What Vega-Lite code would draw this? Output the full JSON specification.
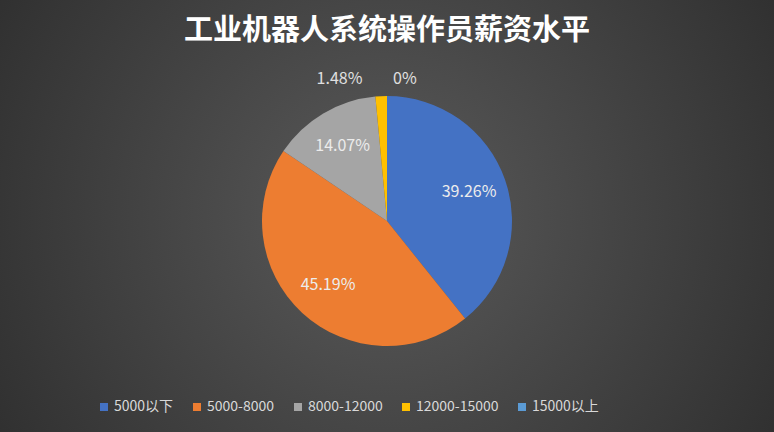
{
  "$schema": "https://vega.github.io/schema/vega-lite/v6.json",
  "width": 774,
  "height": 432,
  "padding": 0,
  "autosize": {"type": "none"},
  "background": "#2c2c2c",
  "view": {
    "stroke": null,
    "fill": {
      "gradient": "radial",
      "x1": 0.5, "y1": 0.5, "r1": 0,
      "x2": 0.5, "y2": 0.5, "r2": 0.72,
      "stops": [
        {"offset": 0, "color": "#5a5a5a"},
        {"offset": 1, "color": "#262626"}
      ]
    }
  },
  "title": {
    "text": "工业机器人系统操作员薪资水平",
    "font": "Noto Sans CJK SC",
    "fontSize": 29,
    "fontWeight": "bold",
    "color": "#ffffff",
    "anchor": "middle",
    "baseline": "bottom",
    "offset": -75
  },
  "data": {
    "values": [
      {"idx": 1, "category": "5000以下", "pct": 39.26, "label": "39.26%"},
      {"idx": 2, "category": "5000-8000", "pct": 45.19, "label": "45.19%"},
      {"idx": 3, "category": "8000-12000", "pct": 14.07, "label": "14.07%"},
      {"idx": 4, "category": "12000-15000", "pct": 1.48, "label": "1.48%"},
      {"idx": 5, "category": "15000以上", "pct": 0, "label": "0%"}
    ]
  },
  "encoding": {
    "theta": {"field": "pct", "type": "quantitative", "stack": true},
    "order": {"field": "idx", "type": "quantitative"}
  },
  "layer": [
    {
      "mark": {"type": "arc", "outerRadius": 125, "y": {"expr": "height / 2 + 5"}},
      "encoding": {
        "color": {
          "field": "category",
          "type": "nominal",
          "scale": {
            "domain": ["5000以下", "5000-8000", "8000-12000", "12000-15000", "15000以上"],
            "range": ["#4472c4", "#ed7d31", "#a5a5a5", "#ffc000", "#5b9bd5"]
          },
          "legend": {
            "title": null,
            "orient": "none",
            "direction": "horizontal",
            "legendX": 97,
            "legendY": 400,
            "symbolType": "square",
            "symbolSize": 64,
            "symbolStrokeWidth": 0,
            "labelFont": "Noto Sans CJK SC",
            "labelFontSize": 14,
            "labelColor": "#d9d9d9",
            "labelOffset": 3,
            "columnPadding": 16
          }
        }
      }
    },
    {
      "mark": {"type": "text", "radius": 87, "y": {"expr": "height / 2 + 5"}, "font": "Noto Sans CJK SC", "fontSize": 16, "color": "#ececec"},
      "encoding": {
        "text": {"condition": {"test": "datum.pct > 5", "field": "label"}, "value": ""}
      }
    },
    {
      "mark": {"type": "text", "radius": 142, "y": {"expr": "height / 2 + 5"}, "align": "right", "dx": -18, "font": "Noto Sans CJK SC", "fontSize": 16, "color": "#e0e0e0"},
      "encoding": {
        "text": {"condition": {"test": "datum.category === '12000-15000'", "field": "label"}, "value": ""}
      }
    },
    {
      "mark": {"type": "text", "radius": 142, "y": {"expr": "height / 2 + 5"}, "align": "left", "dx": 6, "font": "Noto Sans CJK SC", "fontSize": 16, "color": "#e0e0e0"},
      "encoding": {
        "text": {"condition": {"test": "datum.category === '15000以上'", "field": "label"}, "value": ""}
      }
    }
  ]
}
